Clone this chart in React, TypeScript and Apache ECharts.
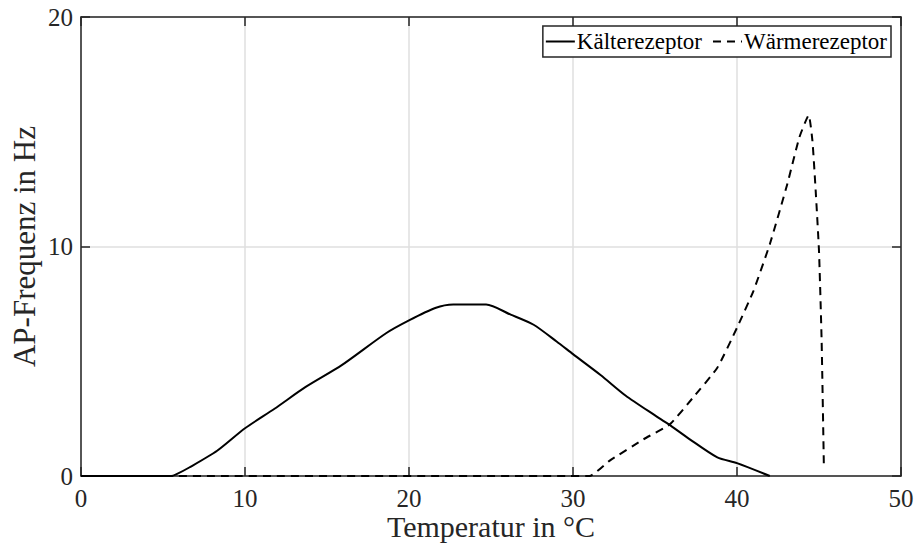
import React, { useEffect, useRef } from "react";
import * as echarts from "echarts";

const seriesNames = ["Kälterezeptor", "Wärmerezeptor"];

const kalteData: [number, number][] = [
  [0, 0], [5.5, 0], [5.8, 0.07], [6.6, 0.37], [8.3, 1.1], [10, 2.08], [11.8, 2.93],
  [13.7, 3.88], [15.9, 4.83], [18.6, 6.22], [20, 6.78], [21.6, 7.32], [22.7, 7.47],
  [24.7, 7.47], [26.2, 7.03], [27.6, 6.59], [29, 5.86], [30, 5.31], [31.7, 4.39],
  [33.2, 3.51], [35, 2.64], [35.8, 2.27], [37.1, 1.61], [38.8, 0.81], [40, 0.56], [42, 0],
];

const waermeData: [number, number][] = [
  [0, 0], [31, 0], [32.2, 0.65], [34.3, 1.6], [35.9, 2.25], [37.3, 3.4], [38.8, 4.72],
  [40, 6.46], [41, 8.06], [42, 10.1], [43.06, 12.7], [43.8, 14.75], [44.37, 15.72],
  [44.6, 14.6], [44.8, 12.4], [45, 9.8], [45.16, 5.9], [45.3, 0.3],
];

const xName = "Temperatur in °C";
const yName = "AP-Frequenz in Hz";

const FONT = "Liberation Serif";
const AXIS = "#262626";
const GRID = "#dfdfdf";

export default function App() {
  const ref = useRef<HTMLDivElement>(null);
  useEffect(() => {
    if (!ref.current) return;
    const chart = echarts.init(ref.current, undefined, { renderer: "svg" });
    const tickCommon = { show: true, inside: true, length: 9, lineStyle: { color: AXIS, width: 1.5 } };
    chart.setOption({
      animation: false,
      backgroundColor: "#ffffff",
      textStyle: { fontFamily: FONT },
      grid: { left: 81, right: 15, top: 17, bottom: 68, containLabel: false, outerBoundsMode: "none" },
      legend: {
        data: seriesNames,
        top: 26,
        right: 25,
        orient: "horizontal",
        itemWidth: 29,
        itemHeight: 14,
        itemGap: 10,
        padding: [4, 4, 4, 2],
        borderColor: "#262626",
        borderWidth: 1.5,
        backgroundColor: "#ffffff",
        itemStyle: { opacity: 0, borderWidth: 0 },
        textStyle: { fontFamily: FONT, fontSize: 23, color: "#000000", padding: [0, 0, 0, -3] },
      },
      xAxis: [
        {
          type: "value", min: 0, max: 50, interval: 10,
          name: xName, nameLocation: "middle", nameGap: 50, nameMoveOverlap: false,
          nameTextStyle: { fontFamily: FONT, fontSize: 30, color: AXIS, verticalAlign: "middle" },
          axisLine: { show: true, onZero: false, lineStyle: { color: AXIS, width: 1.5 } },
          axisTick: tickCommon,
          axisLabel: { fontFamily: FONT, fontSize: 25, color: AXIS, margin: 10 },
          splitLine: { show: true, lineStyle: { color: GRID, width: 1.5 } },
        },
        {
          type: "value", min: 0, max: 50, interval: 10, position: "top",
          axisLine: { show: true, onZero: false, lineStyle: { color: AXIS, width: 1.5 } },
          axisTick: tickCommon,
          axisLabel: { show: false },
          splitLine: { show: false },
        },
      ],
      yAxis: [
        {
          type: "value", min: 0, max: 20, interval: 10,
          name: yName, nameLocation: "middle", nameGap: 41, nameRotate: 90, nameMoveOverlap: false,
          nameTextStyle: { fontFamily: FONT, fontSize: 31, color: AXIS },
          axisLine: { show: true, onZero: false, lineStyle: { color: AXIS, width: 1.5 } },
          axisTick: tickCommon,
          axisLabel: { fontFamily: FONT, fontSize: 25, color: AXIS, margin: 8 },
          splitLine: { show: true, lineStyle: { color: GRID, width: 1.5 } },
        },
        {
          type: "value", min: 0, max: 20, interval: 10, position: "right",
          axisLine: { show: true, onZero: false, lineStyle: { color: AXIS, width: 1.5 } },
          axisTick: tickCommon,
          axisLabel: { show: false },
          splitLine: { show: false },
        },
      ],
      series: [
        {
          name: seriesNames[0], type: "line", data: kalteData, symbol: "none",
          smooth: 0.25,
          lineStyle: { color: "#000000", width: 2, type: "solid" },
          itemStyle: { color: "#000000" },
        },
        {
          name: seriesNames[1], type: "line", data: waermeData, symbol: "none",
          smooth: 0.15,
          lineStyle: { color: "#000000", width: 2, type: [8, 6] },
          itemStyle: { color: "#000000" },
        },
      ],
    });
    return () => chart.dispose();
  }, []);
  return <div ref={ref} style={{ width: 916, height: 544, position: "absolute", left: 0, top: 0 }} />;
}
